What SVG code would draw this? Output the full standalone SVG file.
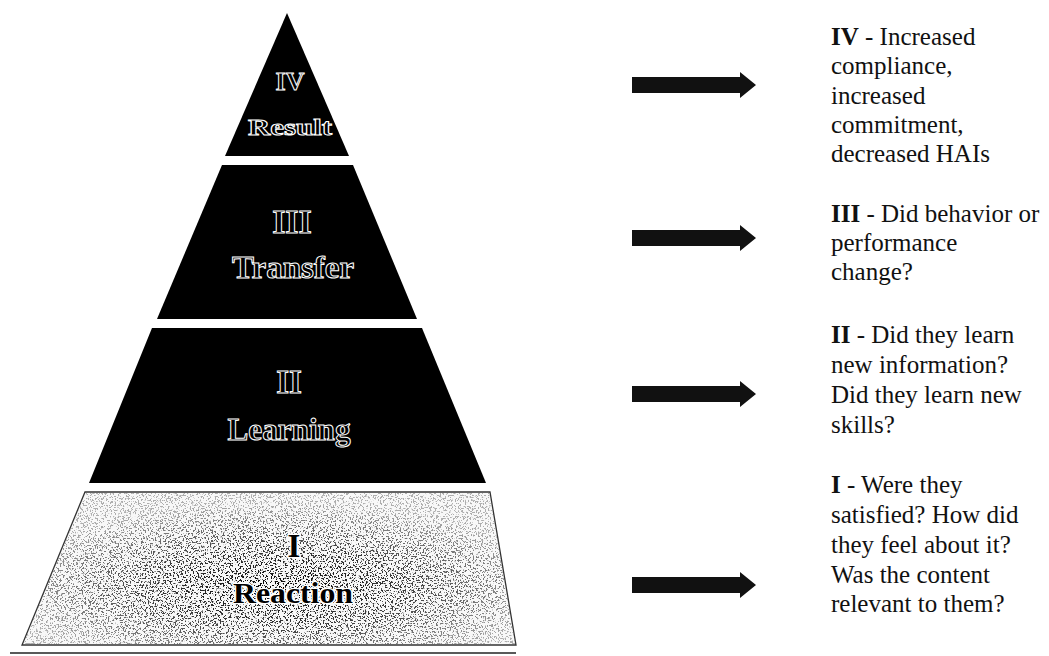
<svg xmlns="http://www.w3.org/2000/svg" width="1049" height="656" viewBox="0 0 1049 656">
<style>
.tier{fill:#000}
.lbl{font-family:"Liberation Serif","Times New Roman",serif;font-weight:bold;text-anchor:middle;fill:#000;stroke:#fff;stroke-width:1}
.halo{fill:#000;stroke:#fff;stroke-width:2.6;paint-order:stroke}
.desc{font-family:"Liberation Serif","Times New Roman",serif;font-size:25px;fill:#111}
.b{font-weight:bold}
.arrow{fill:#111}
</style>
<defs>
<filter id="speckle" x="0" y="0" width="100%" height="100%">
<feTurbulence type="fractalNoise" baseFrequency="0.6" numOctaves="3" seed="7" result="n"/>
<feColorMatrix in="n" type="matrix" values="0 0 0 0 0  0 0 0 0 0  0 0 0 0 0  16 0 0 0 -8.8" result="dots"/>
<feComposite in="dots" in2="SourceGraphic" operator="in"/>
</filter>
<radialGradient id="fade" cx="0.52" cy="0.62" r="0.55">
<stop offset="0" stop-color="#fff" stop-opacity="1"/>
<stop offset="0.5" stop-color="#fff" stop-opacity="0.75"/>
<stop offset="1" stop-color="#fff" stop-opacity="0.3"/>
</radialGradient>
<mask id="m1"><polygon points="85,492 490,492 516,645 22,645" fill="url(#fade)"/></mask>
<path id="arr" d="M0,-8 H108 V-13 L124,0 L108,13 V8 H0 Z"/>
</defs>
<g id="tier-iv"><polygon class="tier" points="287,13 349,156 225,156"/>
<text class="lbl" x="290" y="90" font-size="26">IV</text>
<text class="lbl" x="290" y="135" font-size="24" textLength="84" lengthAdjust="spacingAndGlyphs">Result</text></g>
<g id="tier-iii"><polygon class="tier" points="222,165 353,165 417,319 157,319"/>
<text class="lbl" x="292" y="233" font-size="34">III</text>
<text class="lbl" x="293" y="278" font-size="32" textLength="122" lengthAdjust="spacingAndGlyphs">Transfer</text></g>
<g id="tier-ii"><polygon class="tier" points="152,328 422,328 486,483 89,483"/>
<text class="lbl" x="289" y="393" font-size="33">II</text>
<text class="lbl" x="289" y="440" font-size="31" textLength="123" lengthAdjust="spacingAndGlyphs">Learning</text></g>
<g id="tier-i"><polygon points="85,492 490,492 516,645 22,645" fill="#f8f8f8" stroke="#333" stroke-width="1.3"/>
<g mask="url(#m1)"><polygon points="86,493 489,493 515,644 23,644" fill="#000" filter="url(#speckle)"/></g>
<text class="lbl halo" x="294" y="557" font-size="33">I</text>
<text class="lbl halo" x="293" y="603" font-size="29" textLength="120" lengthAdjust="spacingAndGlyphs">Reaction</text></g>
<line x1="10" y1="653" x2="516" y2="653" stroke="#222" stroke-width="1.5"/>
<g id="connectors">
<use href="#arr" class="arrow" x="632" y="85"/>
<use href="#arr" class="arrow" x="632" y="238"/>
<use href="#arr" class="arrow" x="632" y="394"/>
<use href="#arr" class="arrow" x="632" y="585"/>
</g>
<g id="desc-iv"><text class="desc" x="831" y="45"><tspan class="b">IV</tspan> - Increased</text>
<text class="desc" x="831" y="74">compliance,</text>
<text class="desc" x="831" y="104">increased</text>
<text class="desc" x="831" y="133">commitment,</text>
<text class="desc" x="831" y="162">decreased HAIs</text></g>
<g id="desc-iii"><text class="desc" x="831" y="222"><tspan class="b">III</tspan> - Did behavior or</text>
<text class="desc" x="831" y="251">performance</text>
<text class="desc" x="831" y="280">change?</text></g>
<g id="desc-ii"><text class="desc" x="831" y="343"><tspan class="b">II</tspan> - Did they learn</text>
<text class="desc" x="831" y="373">new information?</text>
<text class="desc" x="831" y="403">Did they learn new</text>
<text class="desc" x="831" y="433">skills?</text></g>
<g id="desc-i"><text class="desc" x="831" y="493"><tspan class="b">I</tspan> - Were they</text>
<text class="desc" x="831" y="523">satisfied? How did</text>
<text class="desc" x="831" y="553">they feel about it?</text>
<text class="desc" x="831" y="583">Was the content</text>
<text class="desc" x="831" y="612">relevant to them?</text></g>
</svg>
